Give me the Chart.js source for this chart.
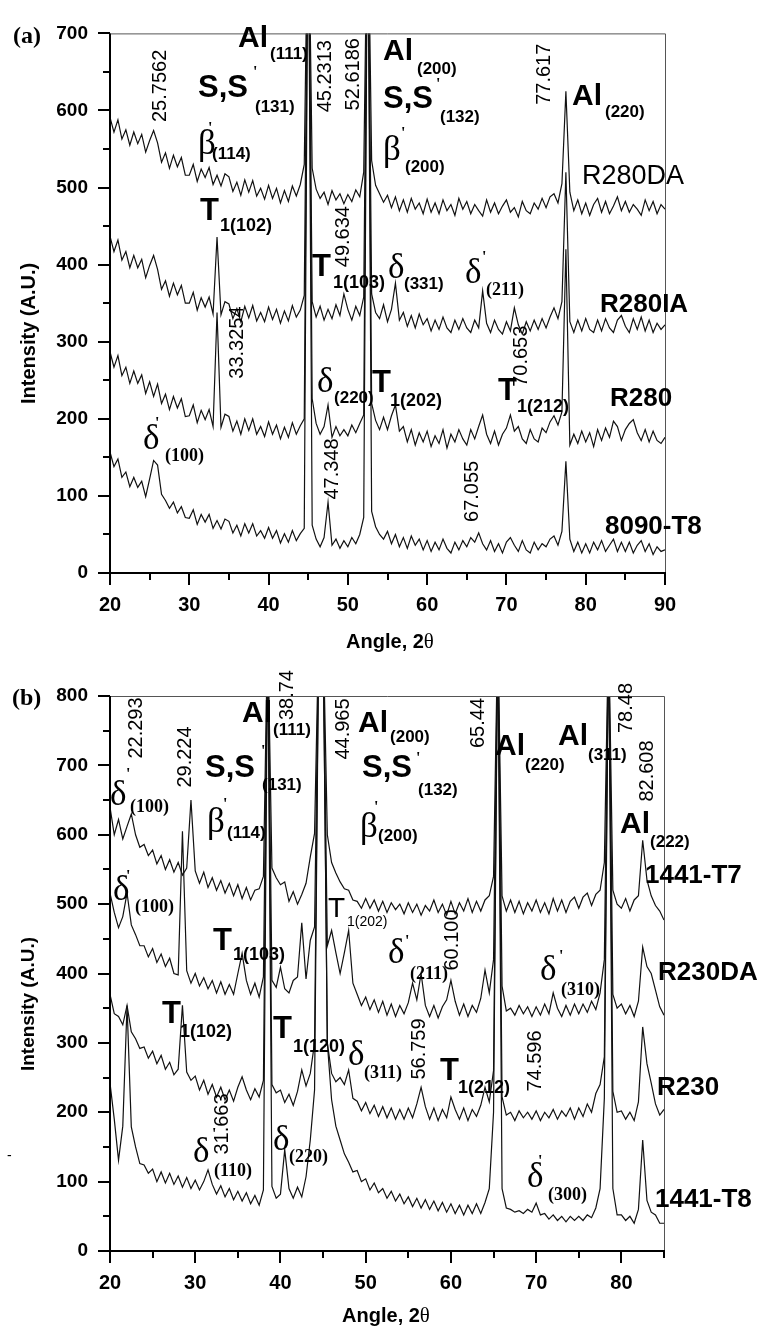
<!DOCTYPE html>
<html><head><meta charset="utf-8">
<script src="https://cdn.jsdelivr.net/npm/chart.js@4.4.1/dist/chart.umd.min.js"></script>
<style>
html,body{margin:0;padding:0;background:#fff;}
body{width:771px;height:1328px;position:relative;overflow:hidden;}
#ca{position:absolute;left:0;top:0;}
#cb{position:absolute;left:0;top:660px;}
</style></head><body>
<canvas id="ca" width="771" height="660"></canvas>
<canvas id="cb" width="771" height="668"></canvas>
<script>
// ---------- DATA ----------
const anglesA = [20,20.5,21,21.5,22,22.5,23,23.5,24,24.5,25,25.5,26,26.5,27,27.5,28,28.5,29,29.5,30,30.5,31,31.5,32,32.5,33,33.5,34,34.5,35,35.5,36,36.5,37,37.5,38,38.5,39,39.5,40,40.5,41,41.5,42,42.5,43,43.5,44,44.5,45,45.5,46,46.5,47,47.5,48,48.5,49,49.5,50,50.5,51,51.5,52,52.5,53,53.5,54,54.5,55,55.5,56,56.5,57,57.5,58,58.5,59,59.5,60,60.5,61,61.5,62,62.5,63,63.5,64,64.5,65,65.5,66,66.5,67,67.5,68,68.5,69,69.5,70,70.5,71,71.5,72,72.5,73,73.5,74,74.5,75,75.5,76,76.5,77,77.5,78,78.5,79,79.5,80,80.5,81,81.5,82,82.5,83,83.5,84,84.5,85,85.5,86,86.5,87,87.5,88,88.5,89,89.5,90];

const r280DA = [591,572,588,563,575,555,572,557,569,546,
 561,574,558,533,545,525,542,527,539,516,
 516,530,508,524,513,526,504,516,502,518,
 514,495,507,490,510,494,509,489,499,485,
 503,486,499,480,496,482,502,489,504,530,
 900,525,498,486,494,478,496,484,492,479,
 491,482,497,488,520,900,535,503,492,481,
 490,474,488,470,484,468,486,472,480,466,
 485,468,480,466,484,470,478,464,486,472,
 482,466,478,470,463,484,468,480,466,476,
 484,468,474,462,482,470,466,480,472,486,
 474,488,492,480,505,625,494,470,484,466,
 480,464,478,486,468,482,466,476,488,470,
 482,468,478,472,464,484,470,482,466,478,
 472];

const r280IA = [437,417,432,406,417,396,412,396,407,383,
 399,412,394,368,379,359,376,361,373,350,
 350,364,341,357,345,358,336,436,335,352,
 349,330,343,326,346,331,347,327,338,326,
 345,329,342,324,340,327,347,332,341,360,
 900,352,332,346,328,342,330,348,334,362,
 342,328,346,334,358,900,362,338,330,348,
 326,342,376,328,338,320,334,318,336,322,
 330,314,328,316,332,318,312,328,316,330,
 318,312,328,318,366,324,312,328,316,310,
 326,314,344,322,310,326,314,328,316,330,
 318,332,344,330,352,520,326,312,328,314,
 330,316,312,328,314,330,318,312,328,334,
 320,312,330,316,332,314,328,312,324,316,
 322];

const r280 = [287,267,282,256,267,246,262,246,257,233,
 248,229,245,220,232,212,229,214,226,203,
 204,218,195,211,199,212,190,338,189,206,
 203,184,197,180,200,185,200,180,190,177,
 196,180,192,174,189,176,195,180,191,200,
 900,226,194,180,190,218,176,190,178,186,
 178,192,182,194,205,900,220,198,186,202,
 186,204,218,184,190,170,186,166,182,170,
 184,164,178,168,186,162,180,170,186,174,
 166,186,174,190,205,180,168,184,166,180,
 188,205,184,190,174,168,186,174,170,188,
 182,196,204,192,209,420,166,180,168,184,
 170,182,164,186,172,188,176,197,190,172,
 186,194,199,182,172,186,170,184,172,168,
 176];

const t8090 = [157,138,148,124,131,112,124,111,119,99,
 122,146,140,102,94,84,92,78,86,72,
 71,82,63,76,66,76,58,68,57,70,
 67,52,62,48,64,52,64,48,55,45,
 59,45,55,39,51,40,55,42,51,58,
 900,62,44,34,46,92,36,44,32,42,
 34,46,38,50,72,900,80,60,50,44,
 54,38,50,34,46,32,48,36,44,30,
 42,28,40,30,44,32,26,40,30,42,
 34,46,40,52,38,30,42,28,38,26,
 40,46,36,28,42,30,26,40,30,38,
 34,44,48,36,54,145,44,28,40,26,
 38,26,40,30,42,28,36,44,28,40,
 28,40,26,36,42,28,38,24,34,28,
 30];

const anglesB = [20,20.5,21,21.5,22,22.5,23,23.5,24,24.5,25,25.5,26,26.5,27,27.5,28,28.5,29,29.5,30,30.5,31,31.5,32,32.5,33,33.5,34,34.5,35,35.5,36,36.5,37,37.5,38,38.5,39,39.5,40,40.5,41,41.5,42,42.5,43,43.5,44,44.5,45,45.5,46,46.5,47,47.5,48,48.5,49,49.5,50,50.5,51,51.5,52,52.5,53,53.5,54,54.5,55,55.5,56,56.5,57,57.5,58,58.5,59,59.5,60,60.5,61,61.5,62,62.5,63,63.5,64,64.5,65,65.5,66,66.5,67,67.5,68,68.5,69,69.5,70,70.5,71,71.5,72,72.5,73,73.5,74,74.5,75,75.5,76,76.5,77,77.5,78,78.5,79,79.5,80,80.5,81,81.5,82,82.5,83,83.5,84,84.5,85];

const t1441T7 = [640,600,622,594,612,630,600,582,586,570,
 578,558,570,550,564,546,560,542,552,650,
 548,530,546,524,538,520,534,516,530,512,
 528,508,524,506,520,522,540,900,552,538,
 528,532,504,518,500,514,530,568,602,900,
 900,600,560,545,532,522,520,506,504,494,
 508,494,506,490,504,488,502,492,500,486,
 502,488,500,484,498,490,506,488,500,484,
 504,486,502,490,508,488,504,490,506,512,
 540,900,512,490,506,488,504,486,502,490,
 506,488,502,486,508,490,506,488,504,510,
 494,510,516,498,514,520,560,900,520,500,
 494,508,490,506,512,592,535,512,498,490,
 477];

const r230DA = [516,488,466,482,516,470,456,440,440,424,
 436,416,428,410,422,400,398,605,404,386,
 400,382,394,378,390,372,388,370,384,370,
 400,429,390,370,386,366,395,900,390,380,
 409,378,372,390,395,473,392,448,467,900,
 900,440,462,430,400,430,462,386,370,354,
 366,348,362,344,360,340,356,338,354,342,
 358,386,362,400,354,338,354,336,352,362,
 390,360,340,356,338,354,344,364,405,372,
 420,900,382,346,350,340,354,342,352,338,
 352,340,356,342,372,350,338,354,340,356,
 342,356,344,360,348,372,420,900,370,350,
 356,342,354,338,360,438,410,400,376,352,
 340];

const r230 = [370,342,338,326,354,316,306,292,294,278,
 288,270,282,262,272,254,262,354,258,246,
 252,232,246,226,240,222,236,218,232,216,
 236,251,232,218,234,222,246,900,240,228,
 232,214,226,210,230,261,238,256,300,900,
 900,300,256,244,250,240,261,220,216,202,
 214,198,210,194,208,192,206,190,204,190,
 206,192,212,236,208,190,206,188,204,192,
 222,204,190,206,188,204,194,210,236,215,
 260,900,222,196,200,188,202,192,200,190,
 202,188,200,192,204,190,202,194,206,190,
 206,194,212,200,227,240,280,900,230,200,
 202,190,200,188,215,323,270,242,212,196,
 204];

const t1441T8 = [242,190,131,180,354,179,150,126,124,112,
 118,100,114,98,112,96,108,92,106,90,
 102,88,100,117,96,82,94,78,90,74,
 86,72,84,68,80,66,88,900,93,76,
 82,146,90,76,92,78,107,160,232,900,
 900,300,218,180,160,140,128,114,116,100,
 104,88,98,84,90,76,86,72,82,68,
 78,64,76,62,74,60,72,58,70,56,
 68,54,66,52,66,54,68,54,70,90,
 200,900,90,62,60,56,58,54,60,56,
 69,52,54,46,52,44,50,42,50,44,
 50,44,52,48,62,90,220,900,90,52,
 52,44,50,40,60,160,73,56,52,40,
 40];

const xTicksA = [20,30,40,50,60,70,80,90];
const xTicksB = [20,30,40,50,60,70,80];
const yTicksA = [0,100,200,300,400,500,600,700];
const yTicksB = [0,100,200,300,400,500,600,700,800];

// peak position tags (rotated numbers): [text, angle, intensity]
const tagsA = [["25.7562",26.31,631.9],["45.2313",47.12,644.5],["52.6186",50.77,647.0],["77.617",74.86,647.0],
 ["49.634",49.39,436.4],["33.3254",36.14,298.9],["70.653",71.96,281.2],["47.348",48.12,134.9],["67.055",65.78,105.9]];
const tagsB = [["22.293",23.05,753.9],["29.224",28.80,712.1],["38.74",40.88,801.4],["44.965",47.34,752.4],["65.44",63.18,761.1],
 ["78.48",80.54,782.7],["82.608",83.12,691.9],["60.100",60.24,448.3],["56.759",56.37,291.2],["74.596",69.87,273.9],["31.663",33.14,183.1]];

// phase / sample labels: [angle, intensity, parts[[text,font,dxPx,dyPx]]]
const labelsA = [
 [7.77,687.4,[["(a)","panel",0,0]]],
 [36.14,682.3,[["Al","big",0,0],["(111)","sub",32,12]]],
 [31.10,618.0,[["S,S","bigT",0,0],["'","prime",55,-20],["(131)","sub",57,15]]],
 [31.10,543.6,[["β","greek",0,0],["'","prime",10,-21],["(114)","sub",14,5]]],
 [54.43,665.9,[["Al","big",0,0],["(200)","sub",34,14]]],
 [54.43,602.8,[["S,S","bigT",0,0],["'","prime",53,-19],["(132)","sub",57,14]]],
 [54.43,536.0,[["β","greek",0,0],["'","prime",18,-22],["(200)","sub",22,12]]],
 [78.27,606.6,[["Al","big",0,0],["(220)","sub",33,12]]],
 [79.53,504.5,[["R280DA","nameReg",0,0]]],
 [31.35,457.8,[["T","bigT",0,0],["1(102)","tsub",20,11]]],
 [45.48,384.7,[["T","bigT",0,0],["1(103)","tsub",21,12]]],
 [55.06,382.1,[["δ","greek",0,0],["(331)","sub",16,11]]],
 [64.77,375.8,[["δ","greek",0,0],["'","prime",17,-21],["(211)","ssub",21,12]]],
 [81.80,338.0,[["R280IA","name",0,0]]],
 [46.11,234.6,[["δ","greek",0,0],["(220)","sub",17,11]]],
 [53.04,234.6,[["T","bigT",0,0],["1(202)","tsub",18,14]]],
 [68.93,224.5,[["T","bigT",0,0],["1(212)","tsub",19,12]]],
 [83.06,216.9,[["R280","name",0,0]]],
 [24.16,161.4,[["δ","greek",0,0],["'","prime",12,-21],["(100)","ssub",22,12]]],
 [82.43,50.4,[["8090-T8","name",0,0]]]
];
const labelsB = [
 [8.50,787.0,[["(b)","panel",0,0]]],
 [20.0,642.9,[["δ","greek",0,0],["'","prime",16,-26],["(100)","ssub",20,7]]],
 [35.49,762.5,[["Al","big",0,0],["(111)","sub",31,13]]],
 [31.15,683.2,[["S,S","bigT",0,0],["'","prime",56,-21],["(131)","sub",57,13]]],
 [31.38,604.0,[["β","greek",0,0],["'","prime",16,-23],["(114)","sub",20,6]]],
 [49.10,748.1,[["Al","big",0,0],["(200)","sub",32,10]]],
 [49.57,683.2,[["S,S","bigT",0,0],["'","prime",54,-14],["(132)","sub",56,18]]],
 [49.33,596.8,[["β","greek",0,0],["'","prime",14,-25],["(200)","sub",18,4]]],
 [65.17,715.0,[["Al","big",0,0],["(220)","sub",30,15]]],
 [72.56,729.4,[["Al","big",0,0],["(311)","sub",30,15]]],
 [79.84,602.5,[["Al","big",0,0],["(222)","sub",30,14]]],
 [82.77,530.5,[["1441-T7","name",0,0]]],
 [20.35,505.9,[["δ","greek",0,0],["'","prime",13,-19],["(100)","ssub",22,12]]],
 [32.09,433.9,[["T","bigT",0,0],["1(103)","tsub",20,10]]],
 [45.58,481.4,[["T","treg",0,0],["1(202)","tsubreg",19,9]]],
 [52.62,415.1,[["δ","greek",0,0],["'","prime",17,-17],["(211)","ssub",22,16]]],
 [70.45,390.6,[["δ","greek",0,0],["'","prime",19,-19],["(310)","ssub",21,15]]],
 [84.30,390.6,[["R230DA","name",0,0]]],
 [26.10,328.6,[["T","bigT",0,0],["1(102)","tsub",18,14]]],
 [39.12,307.0,[["T","bigT",0,0],["1(120)","tsub",20,14]]],
 [47.92,268.1,[["δ","greek",0,0],["(311)","ssub",16,13]]],
 [58.72,246.5,[["T","bigT",0,0],["1(212)","tsub",18,13]]],
 [84.18,224.9,[["R230","name",0,0]]],
 [29.74,128.3,[["δ","greek",0,0],["'","prime",19,-23],["(110)","ssub",21,14]]],
 [39.12,145.6,[["δ","greek",0,0],["(220)","ssub",16,12]]],
 [68.93,92.3,[["δ","greek",0,0],["'","prime",11,-21],["(300)","ssub",21,13]]],
 [83.94,63.4,[["1441-T8","name",0,0]]],
 [7.91,131.2,[["-","small",0,0]]]
];

// ---------- STYLE ----------
const SANS = "'Liberation Sans', Arial, Helvetica, sans-serif";
const SERIF = "'Liberation Serif', 'Times New Roman', serif";
const FONTS = {
 big: "bold 30px " + SANS,
 bigT: "bold 31px " + SANS,
 sub: "bold 17px " + SANS,
 tsub: "bold 18px " + SANS,
 greek: "35px " + SERIF,
 ssub: "bold 18px " + SERIF,
 prime: "bold 16px " + SERIF,
 num: "20px " + SANS,
 name: "bold 26px " + SANS,
 nameReg: "27px " + SANS,
 treg: "28px " + SANS,
 tsubreg: "14px " + SANS,
 panel: "bold 24px " + SERIF,
 small: "14px " + SANS
};

function decoPlugin(cfg) {
 return {
  id: 'deco',
  afterDraw(chart) {
   const ctx = chart.ctx, xs = chart.scales.x, ys = chart.scales.y, ca = chart.chartArea;
   ctx.save();
   // frame
   ctx.strokeStyle = '#555'; ctx.lineWidth = 1;
   ctx.beginPath(); ctx.moveTo(ca.left, ca.top + 0.5); ctx.lineTo(ca.right + 0.5, ca.top + 0.5); ctx.lineTo(ca.right + 0.5, ca.bottom); ctx.stroke();
   ctx.strokeStyle = '#000'; ctx.lineWidth = 2;
   ctx.beginPath(); ctx.moveTo(ca.left, ca.top); ctx.lineTo(ca.left, ca.bottom); ctx.lineTo(ca.right + 1, ca.bottom); ctx.stroke();
   // ticks (major + minor)
   ctx.beginPath();
   for (let v = ys.min; v <= ys.max + 1e-6; v += 50) {
    const p = Math.round(ys.getPixelForValue(v));
    const len = (v % 100 === 0) ? 12 : 7;
    ctx.moveTo(ca.left - len, p); ctx.lineTo(ca.left, p);
   }
   for (let v = xs.min; v <= xs.max + 1e-6; v += 5) {
    const p = Math.round(xs.getPixelForValue(v));
    const len = (v % 10 === 0) ? 12 : 7;
    ctx.moveTo(p, ca.bottom); ctx.lineTo(p, ca.bottom + len);
   }
   ctx.stroke();
   ctx.fillStyle = '#000';
   // axis titles
   ctx.textBaseline = 'alphabetic'; ctx.textAlign = 'left';
   ctx.font = "bold 20px " + SANS;
   const t1 = "Angle, 2";
   const w1 = ctx.measureText(t1).width;
   ctx.font = "21px " + SERIF;
   const w2 = ctx.measureText("θ").width;
   const x0 = cfg.xTitleX - (w1 + w2) / 2;
   const yb = ca.bottom + cfg.xTitleDy;
   ctx.font = "bold 20px " + SANS; ctx.fillText(t1, x0, yb);
   ctx.font = "21px " + SERIF; ctx.fillText("θ", x0 + w1, yb);
   ctx.save();
   ctx.translate(cfg.yTitleX, ca.top + cfg.yTitleDy);
   ctx.rotate(-Math.PI / 2);
   ctx.textAlign = 'center'; ctx.textBaseline = 'middle';
   ctx.font = "bold " + cfg.yTitleSize + "px " + SANS;
   ctx.fillText("Intensity (A.U.)", 0, 0);
   ctx.restore();
   // rotated peak tags
   for (const [t, a, v] of cfg.tags) {
    ctx.save();
    ctx.translate(xs.getPixelForValue(a), ys.getPixelForValue(v));
    ctx.rotate(-Math.PI / 2);
    ctx.textAlign = 'center'; ctx.textBaseline = 'middle';
    ctx.font = FONTS.num; ctx.fillText(t, 0, 0);
    ctx.restore();
   }
   // labels
   ctx.textAlign = 'left'; ctx.textBaseline = 'alphabetic';
   for (const [a, v, parts] of cfg.labels) {
    const px = xs.getPixelForValue(a), py = ys.getPixelForValue(v);
    for (const [t, f, dx, dy] of parts) {
     ctx.font = FONTS[f]; ctx.fillText(t, px + dx, py + dy);
    }
   }
   ctx.restore();
  }
 };
}

function series(xsArr, ysArr) { return xsArr.map((x, i) => ({x: x, y: ysArr[i]})); }
function ds(xsArr, ysArr) {
 return { data: series(xsArr, ysArr), borderColor: '#111', borderWidth: 1.2, pointRadius: 0, tension: 0, fill: false };
}

function build(id, xsArr, list, xMax, yMax, xTicks, yTicks, pad, xH, cfg) {
 return new Chart(document.getElementById(id), {
  type: 'line',
  data: { datasets: list.map(s => ds(xsArr, s)) },
  options: {
   responsive: false, animation: false, devicePixelRatio: 1, events: [],
   layout: { padding: pad },
   plugins: { legend: { display: false }, tooltip: { enabled: false } },
   scales: {
    x: { type: 'linear', min: 20, max: xMax,
     grid: { display: false, drawTicks: false }, border: { display: false },
     afterBuildTicks: s => { s.ticks = xTicks.map(v => ({ value: v })); },
     ticks: { color: '#000', padding: 20, maxRotation: 0, autoSkip: false, font: { family: SANS, size: 20, weight: 'bold' } },
     afterFit: s => { s.height = xH; } },
    y: { type: 'linear', min: 0, max: yMax,
     grid: { display: false, drawTicks: false }, border: { display: false },
     afterBuildTicks: s => { s.ticks = yTicks.map(v => ({ value: v })); },
     ticks: { color: '#000', padding: 22, autoSkip: false, font: { family: SANS, size: 19, weight: 'bold' } },
     afterFit: s => { s.width = 110; } }
   }
  },
  plugins: [decoPlugin(cfg)]
 });
}

build('ca', anglesA, [r280DA, r280IA, r280, t8090], 90, 700, xTicksA, yTicksA,
 { top: 18, right: 106, left: 0, bottom: 0 }, 87,
 { tags: tagsA, labels: labelsA, xTitleX: 390, xTitleDy: 75, yTitleX: 29, yTitleDy: 300, yTitleSize: 20 });
build('cb', anglesB, [t1441T7, r230DA, r230, t1441T8], 85, 800, xTicksB, yTicksB,
 { top: 36, right: 107, left: 0, bottom: 0 }, 77,
 { tags: tagsB, labels: labelsB, xTitleX: 386, xTitleDy: 71, yTitleX: 29, yTitleDy: 308, yTitleSize: 19 });
</script>
</body></html>
